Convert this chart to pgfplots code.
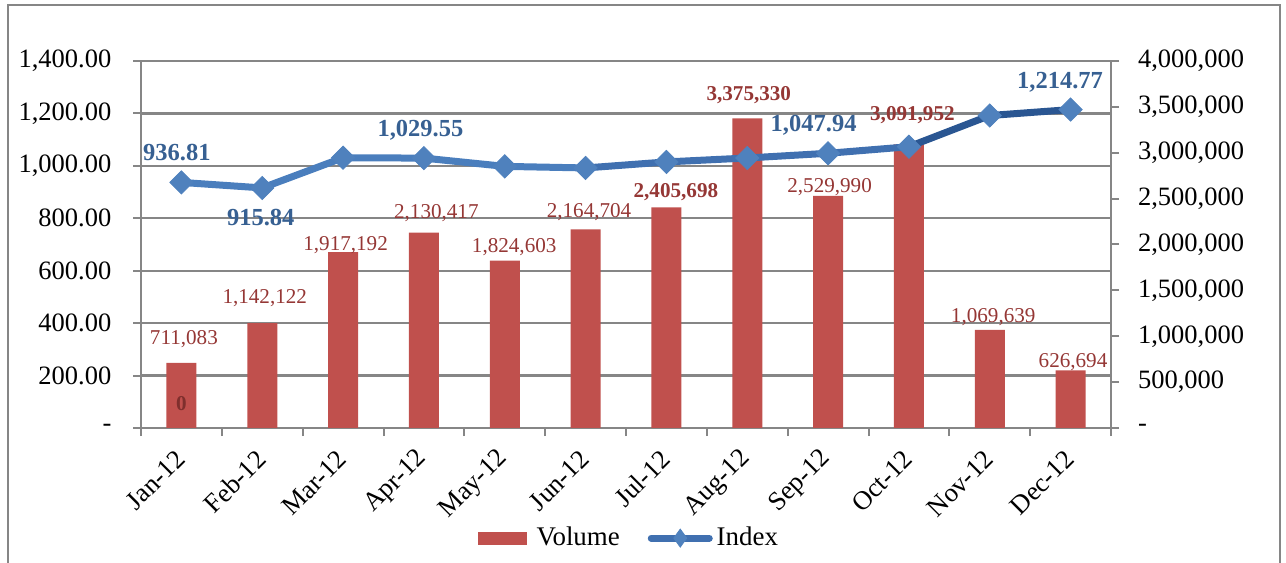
\documentclass[border=0pt]{standalone}
\usepackage{fontspec}
\setmainfont{Liberation Serif}
\usepackage{pgfplots}
\pgfplotsset{compat=1.18}

\definecolor{barred}{RGB}{192,80,77}
\definecolor{volred}{RGB}{149,55,53}
\definecolor{idxblue}{RGB}{55,96,146}
\definecolor{lineA}{RGB}{74,126,189}
\definecolor{lineB}{RGB}{64,112,176}
\definecolor{lineC}{RGB}{42,86,146}
\definecolor{mk}{RGB}{79,129,189}
\definecolor{axgray}{RGB}{134,134,134}

\pgfplotsset{
  base/.style={at={(70.5bp,67.5bp)}, anchor=south west, scale only axis,
    width=485bp, height=183.5bp, xmin=-0.5, xmax=11.5, clip=false},
}
\tikzset{
  vlab/.style={font=\fontsize{10.6}{12}\selectfont, text=volred, inner sep=0pt},
  vbold/.style={vlab, font=\fontsize{10.6}{12}\selectfont\bfseries},
  ilab/.style={font=\fontsize{12.3}{14}\selectfont\bfseries, text=idxblue, inner sep=0pt},
}

\begin{document}
\begin{tikzpicture}
\path[use as bounding box] (0,0) rectangle (643bp,281.5bp);
\draw[axgray, line width=1bp] (4bp,0) -- (4bp,279bp) -- (640bp,279bp) -- (640bp,0);

% grid, left axis, categories
\begin{axis}[base, ymin=0, ymax=1400,
  axis y line*=left, axis x line*=bottom,
  ytick pos=left, yticklabel pos=left, xtick pos=left, xticklabel pos=left,
  axis line style={-, axgray, line width=1bp},
  ytick={0,200,...,1400},
  yticklabels={{-\hspace{7bp}},{200.00},{400.00},{600.00},{800.00},{1,000.00},{1,200.00},{1,400.00}},
  minor ytick={0,200,...,1400},
  xtick={0,...,11},
  xticklabels={Jan-12,Feb-12,Mar-12,Apr-12,May-12,Jun-12,Jul-12,Aug-12,Sep-12,Oct-12,Nov-12,Dec-12},
  minor xtick={-0.5,0.5,...,11.5},
  major tick length=0pt, minor tick length=4bp, tick align=outside,
  minor tick style={axgray, line width=1bp},
  ymajorgrids, grid style={axgray, line width=1.2bp},
  tick label style={font=\fontsize{13.3}{15}\selectfont},
  yticklabel style={xshift=-11.3bp},
  xticklabel style={yshift=-11bp, xshift=2bp, rotate=45, anchor=east},
]
\addplot[draw=none] coordinates {(0,0)};
\end{axis}

% volume bars, right axis
\begin{axis}[base, ymin=0, ymax=4000000,
  axis y line*=right, axis x line=none,
  ytick pos=right, yticklabel pos=right,
  axis line style={-, axgray, line width=1bp},
  scaled y ticks=false,
  ytick={0,500000,...,4000000},
  yticklabels={-,{500,000},{1,000,000},{1,500,000},{2,000,000},{2,500,000},{3,000,000},{3,500,000},{4,000,000}},
  minor ytick={0,500000,...,4000000},
  major tick length=0pt, minor tick length=4bp, tick align=outside,
  minor tick style={axgray, line width=1bp},
  tick label style={font=\fontsize{13.3}{15}\selectfont},
  yticklabel style={anchor=west, xshift=10bp},
]
\addplot[ybar, bar width=15bp, fill=barred, draw=none] coordinates {
  (0,711083) (1,1142122) (2,1917192) (3,2130417) (4,1824603) (5,2164704)
  (6,2405698) (7,3375330) (8,2529990) (9,3091952) (10,1069639) (11,626694)};
\node[vlab] at (axis cs:0.031,970027) {711,083};
\node[vlab] at (axis cs:1.031,1416894) {1,142,122};
\node[vlab] at (axis cs:2.031,1994550) {1,917,192};
\node[vlab] at (axis cs:3.154,2343324) {2,130,417};
\node[vlab] at (axis cs:4.117,1972752) {1,824,603};
\node[vlab] at (axis cs:5.043,2354223) {2,164,704};
\node[vbold] at (axis cs:6.117,2572207) {2,405,698};
\node[vbold] at (axis cs:7.019,3629428) {3,375,330};
\node[vlab] at (axis cs:8.019,2626703) {2,529,990};
\node[vbold] at (axis cs:9.043,3411444) {3,091,952};
\node[vlab] at (axis cs:10.043,1209809) {1,069,639};
\node[vlab] at (axis cs:11.03,719346) {626,694};
\node[vbold, text=volred!85!black] at (axis cs:0,261580) {0};
\end{axis}

% index line, left axis
\begin{axis}[base, ymin=0, ymax=1400, axis lines=none,
  legend columns=2,
  legend style={at={(0.504,-0.30)}, anchor=center, draw=none, fill=none,
    font=\fontsize{13.5}{15}\selectfont,
    /tikz/every even column/.append style={column sep=12bp}},
]
\addlegendimage{legend image code/.code={\fill[barred] (0bp,-3bp) rectangle (24bp,3bp); \path (27bp,0bp);}}
\addlegendentry{Volume}
\addlegendimage{legend image code/.code={
  \draw[lineB, line width=3.5bp, line cap=round] (0bp,0bp) -- (29bp,0bp);
  \fill[mk] (14.5bp,0bp) +(0,4.5bp) -- +(3.25bp,0) -- +(0,-4.5bp) -- +(-3.25bp,0) -- cycle;}}
\addlegendentry{Index}
\addplot[forget plot, lineA, line width=3.5bp, line join=round, line cap=round] coordinates {
  (0,936.81) (1,915.84) (2,1031) (3,1029.55) (4,998) (5,992)};
\addplot[forget plot, lineB, line width=3.5bp, line join=round, line cap=round] coordinates {
  (5,992) (6,1015) (7,1030) (8,1047.94) (9,1073)};
\addplot[forget plot, lineC, line width=3.5bp, line join=round, line cap=round] coordinates {
  (9,1073) (10,1192) (11,1214.77)};
\addplot[forget plot, only marks, mark=square*, mark size=4.1bp,
  mark options={rotate=45, fill=mk, draw=mk}] coordinates {
  (0,936.81) (1,915.84) (2,1031) (3,1029.55) (4,998) (5,992)
  (6,1015) (7,1030) (8,1047.94) (9,1073) (10,1192) (11,1214.77)};
\node[ilab] at (axis cs:-0.056,1049) {936.81};
\node[ilab] at (axis cs:0.981,801.1) {915.84};
\node[ilab] at (axis cs:2.957,1136.8) {1,029.55};
\node[ilab] at (axis cs:7.821,1155.9) {1,047.94};
\node[ilab] at (axis cs:10.87,1319.9) {1,214.77};
\end{axis}
\end{tikzpicture}
\end{document}
